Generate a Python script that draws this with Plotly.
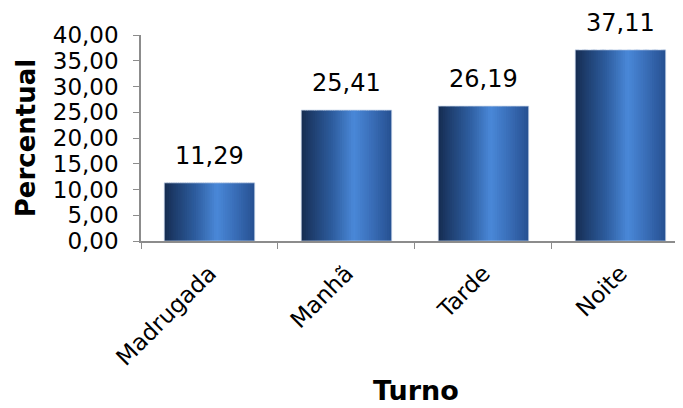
import plotly.graph_objects as go

categorias = ["Madrugada", "Manhã", "Tarde", "Noite"]
percentual = [11.29, 25.41, 26.19, 37.11]
rotulos = ["11,29", "25,41", "26,19", "37,11"]

# horizontal gradient stops (position across bar, colour)
stops = [(0.0, (22, 44, 80)), (0.12, (30, 62, 110)), (0.35, (46, 94, 160)),
         (0.58, (74, 136, 216)), (0.78, (58, 110, 184)), (1.0, (38, 80, 145))]

def interp(t):
    for (p0, c0), (p1, c1) in zip(stops[:-1], stops[1:]):
        if p0 <= t <= p1:
            f = (t - p0) / (p1 - p0) if p1 > p0 else 0
            return "rgb(%d,%d,%d)" % tuple(round(a + (b - a) * f) for a, b in zip(c0, c1))
    return "rgb(%d,%d,%d)" % stops[-1][1]

BAR_W = 0.66
N = 40
step = BAR_W / N
fig = go.Figure()
for i in range(N):
    off = -BAR_W / 2 + i * step
    w = step * 1.6 if i < N - 1 else step
    w = min(w, BAR_W / 2 - off)
    fig.add_trace(go.Bar(
        x=categorias, y=percentual, offset=off, width=w,
        marker=dict(color=interp((i + 0.5) / N), line=dict(width=0)),
        hoverinfo="skip", showlegend=False))

# faint light edge
fig.add_trace(go.Bar(
    x=categorias, y=percentual, offset=-BAR_W / 2, width=BAR_W,
    marker=dict(color="rgba(0,0,0,0)", line=dict(width=1, color="rgba(190,205,230,0.7)")),
    hoverinfo="skip", showlegend=False))

for c, v, t in zip(categorias, percentual, rotulos):
    fig.add_annotation(x=c, y=v, text=t, showarrow=False, yanchor="bottom",
                       yshift=11, font=dict(family="DejaVu Sans", size=24, color="#000"))

fig.update_layout(
    width=683, height=408, barmode="overlay",
    margin=dict(l=133, r=0, t=27, b=175),
    paper_bgcolor="white", plot_bgcolor="white",
    separators=",.",
    font=dict(family="DejaVu Sans", size=23, color="#000"),
    xaxis=dict(
        range=[-0.5, 3.515], tickangle=-45, tickson="boundaries",
        ticks="outside", ticklen=6, tickcolor="#8c8c8c",
        showline=True, linecolor="#8c8c8c", linewidth=1.5,
        showgrid=False, zeroline=False, ticklabelstandoff=8,
        tickfont=dict(family="DejaVu Sans", size=23),
        title=dict(text="<b>Turno</b>", standoff=12,
                   font=dict(family="DejaVu Sans", size=27)),
    ),
    yaxis=dict(
        range=[0, 40], dtick=5, tickformat=".2f",
        ticks="outside", ticklen=6, tickcolor="#8c8c8c",
        showline=True, linecolor="#8c8c8c", linewidth=1.5,
        showgrid=False, zeroline=False, ticklabelstandoff=10,
        tickfont=dict(family="DejaVu Sans", size=23),
        title=dict(text="<b>Percentual</b>", standoff=10,
                   font=dict(family="DejaVu Sans", size=26)),
    ),
)

fig.write_html("out.html")
